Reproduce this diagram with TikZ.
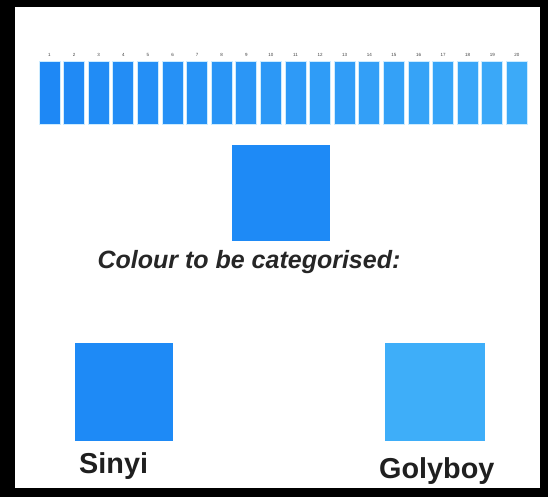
\documentclass[tikz,border=0pt]{standalone}
\usepackage{fontspec}
\setmainfont{Liberation Sans}
\definecolor{blueA}{RGB}{30,136,245}
\definecolor{blueB}{RGB}{60,170,248}
\definecolor{targetblue}{RGB}{30,138,246}
\definecolor{golyblue}{RGB}{62,174,249}
\definecolor{gapcol}{RGB}{205,236,255}
\begin{document}
\begin{tikzpicture}[x=1pt,y=-1pt,
  swatch/.style={inner sep=0pt,outer sep=0pt,anchor=north west},
  barbox/.style={swatch,minimum width=21pt,minimum height=63pt,draw=gapcol,line width=0.7pt},
  numlbl/.style={inner sep=0pt,anchor=base,font=\fontsize{4.5}{4.5}\selectfont,text=black!75},
  bigword/.style={inner sep=0pt,anchor=base west,font=\fontsize{28.8}{30}\selectfont\bfseries,text=black!88}]
  % black frame and white sheet
  \fill[black] (0,0) rectangle (548,497);
  \fill[white] (15,7) rectangle (540,488);
  \useasboundingbox (0,0) rectangle (548,497);
  % row of 20 bars with numbers
  \foreach \i in {1,...,20}{
    \pgfmathsetmacro{\xx}{39+24.6*(\i-1)}
    \pgfmathsetmacro{\cx}{\xx+10.5}
    \pgfmathsetmacro{\pp}{(\i-1)/19*100}
    \colorlet{barc}{blueB!\pp!blueA}
    \node[barbox,fill=barc] (b\i) at (\xx,61) {};
    \node[numlbl] (n\i) at (\cx,57) {\i};
  }
  % colour to categorise
  \node[swatch,fill=targetblue,minimum width=98pt,minimum height=96pt] (target) at (232,145) {};
  \node[inner sep=0pt,anchor=base,font=\fontsize{25}{27}\selectfont\bfseries\itshape,text=black!85] (prompt) at (249,268) {Colour to be categorised:};
  % two categories
  \node[swatch,fill=targetblue,minimum width=98pt,minimum height=98pt] (sinyi) at (75,343) {};
  \node[bigword] (sinyilbl) at (79,473) {Sinyi};
  \node[swatch,fill=golyblue,minimum width=100pt,minimum height=98pt] (golyboy) at (385,343) {};
  \node[bigword] (golylbl) at (379,478) {Golyboy};
\end{tikzpicture}
\end{document}
